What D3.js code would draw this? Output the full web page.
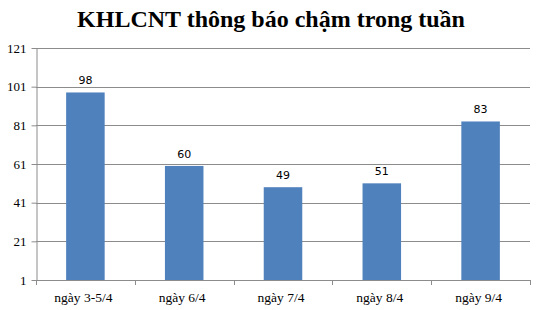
<!DOCTYPE html>
<html>
<head>
<meta charset="utf-8">
<script src="https://cdn.jsdelivr.net/npm/d3@7"></script>
<style>
  body { margin: 0; background: #fff; }
  svg { display: block; }
</style>
</head>
<body>
<script>
// data
var categories = ["ngày 3-5/4", "ngày 6/4", "ngày 7/4", "ngày 8/4", "ngày 9/4"];
var values = [98, 60, 49, 51, 83];
var yTicks = [1, 21, 41, 61, 81, 101, 121];
var title = "KHLCNT thông báo chậm trong tuần";

var W = 541, H = 310;
var m = {left: 36, right: 11, top: 48, bottom: 30};

var svg = d3.select("body").append("svg")
  .attr("width", W)
  .attr("height", H);

var x = d3.scaleBand()
  .domain(categories)
  .range([m.left, W - m.right])
  .paddingInner(0.61)
  .paddingOuter(0.305);

var y = d3.scaleLinear()
  .domain([1, 121])
  .range([H - m.bottom, m.top]);

// title
svg.append("text")
  .attr("x", 271)
  .attr("y", 27)
  .attr("text-anchor", "middle")
  .style("font-family", "'Liberation Serif', 'Times New Roman', serif")
  .style("font-weight", "bold")
  .style("font-size", "24px")
  .text(title);

// gridlines
svg.append("g")
  .selectAll("line")
  .data(yTicks.filter(function(d) { return d > 1; }))
  .join("line")
    .attr("x1", m.left)
    .attr("x2", W - m.right)
    .attr("y1", function(d) { return Math.round(y(d)) + 0.5; })
    .attr("y2", function(d) { return Math.round(y(d)) + 0.5; })
    .attr("stroke", "#8c8c8c")
    .attr("stroke-width", 1);

// y axis
var yAxis = svg.append("g")
  .attr("transform", "translate(" + (m.left + 0.5) + ",0)")
  .call(d3.axisLeft(y).tickValues(yTicks).tickSize(5).tickPadding(5).tickSizeOuter(0));

yAxis.select(".domain").attr("stroke", "#8c8c8c");
yAxis.selectAll(".tick line").attr("stroke", "#8c8c8c");
yAxis.selectAll("text")
  .style("font-family", "'Liberation Serif', 'Times New Roman', serif")
  .style("font-size", "13px")
  .attr("fill", "#000");

// bars
svg.append("g")
  .selectAll("rect")
  .data(values)
  .join("rect")
    .attr("x", function(d, i) { return x(categories[i]); })
    .attr("y", function(d) { return y(d); })
    .attr("width", x.bandwidth())
    .attr("height", function(d) { return y(1) - y(d); })
    .attr("fill", "#4f81bd");

// value labels
svg.append("g")
  .selectAll("text")
  .data(values)
  .join("text")
    .attr("x", function(d, i) { return x(categories[i]) + x.bandwidth() / 2; })
    .attr("y", function(d) { return y(d) - 8; })
    .attr("text-anchor", "middle")
    .style("font-family", "'DejaVu Sans', Verdana, sans-serif")
    .style("font-size", "11px")
    .text(function(d) { return d; });

// x axis with ticks at category boundaries
var step = x.step();
var bounds = d3.range(categories.length + 1).map(function(i) { return m.left + i * step; });

var xg = svg.append("g");
xg.append("line")
  .attr("x1", m.left)
  .attr("x2", W - m.right)
  .attr("y1", Math.round(y(1)) + 0.5)
  .attr("y2", Math.round(y(1)) + 0.5)
  .attr("stroke", "#8c8c8c");
xg.selectAll("line.tk")
  .data(bounds)
  .join("line")
    .attr("class", "tk")
    .attr("x1", function(d) { return Math.round(d) + 0.5; })
    .attr("x2", function(d) { return Math.round(d) + 0.5; })
    .attr("y1", Math.round(y(1)))
    .attr("y2", Math.round(y(1)) + 5)
    .attr("stroke", "#8c8c8c");
xg.selectAll("text")
  .data(categories)
  .join("text")
    .attr("x", function(d) { return x(d) + x.bandwidth() / 2 - 2; })
    .attr("y", y(1) + 22)
    .attr("text-anchor", "middle")
    .style("font-family", "'Liberation Serif', 'Times New Roman', serif")
    .style("font-size", "13.5px")
    .text(function(d) { return d; });
</script>
</body>
</html>
